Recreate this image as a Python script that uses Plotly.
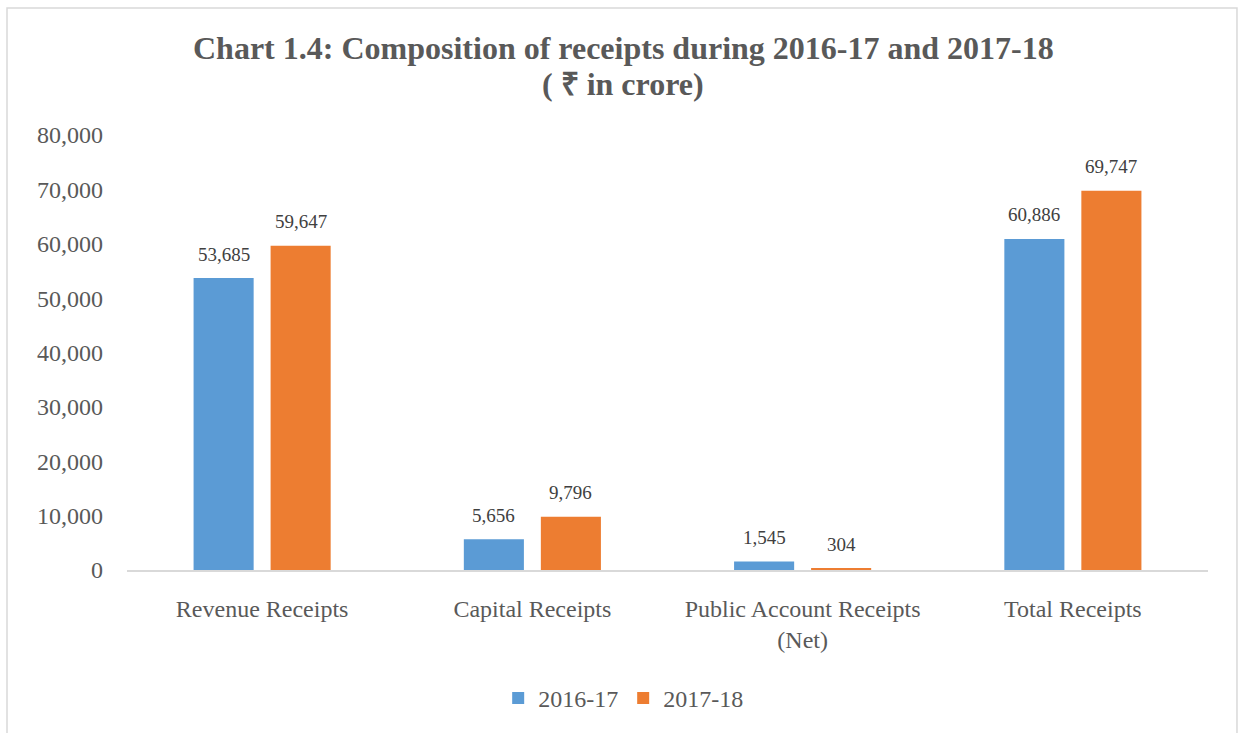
import plotly.graph_objects as go

categories = ["Revenue Receipts", "Capital Receipts", "Public Account Receipts<br>(Net)", "Total Receipts"]
series_names = ["2016-17", "2017-18"]
values_2016_17 = [53685, 5656, 1545, 60886]
values_2017_18 = [59647, 9796, 304, 69747]
y_ticks = [0, 10000, 20000, 30000, 40000, 50000, 60000, 70000, 80000]

FONT = "Liberation Serif, Times New Roman, serif"
GRAY = "#595959"

fig = go.Figure()
annotations = []
for i, (name, vals, col) in enumerate([(series_names[0], values_2016_17, "#5B9BD5"),
                                        (series_names[1], values_2017_18, "#ED7D31")]):
    fig.add_trace(go.Bar(
        x=categories, y=vals, name=name, marker=dict(color=col, line=dict(width=0)),
    ))
    shift = -38.5 if i == 0 else 38.5
    for c, v in zip(categories, vals):
        annotations.append(dict(x=c, y=v, xref="x", yref="y", text=f"{v:,}", showarrow=False,
                                xshift=shift, yshift=24, yanchor="middle",
                                font=dict(family=FONT, size=19, color="#404040")))

annotations.append(dict(text="<b>Chart 1.4: Composition of receipts during 2016-17 and 2017-18</b>",
                        xref="paper", yref="paper", x=0.459, y=(573 - 47) / 438, xanchor="center", yanchor="middle",
                        showarrow=False, font=dict(family=FONT, size=32, color=GRAY)))
annotations.append(dict(text="<b>( ₹ in crore)</b>",
                        xref="paper", yref="paper", x=0.459, y=(573 - 84) / 438, xanchor="center", yanchor="middle",
                        showarrow=False, font=dict(family=FONT, size=32, color=GRAY)))

fig.update_layout(
    width=1242, height=733,
    paper_bgcolor="white", plot_bgcolor="white",
    margin=dict(l=127, r=34, t=135, b=160),
    barmode="group", bargap=0.43, bargroupgap=0.22,
    font=dict(family=FONT, color=GRAY),
    xaxis=dict(showline=True, linecolor="#D9D9D9", linewidth=2, showgrid=False,
               tickfont=dict(family=FONT, size=24, color=GRAY), ticks="", ticklabelstandoff=16),
    yaxis=dict(range=[0, 80000], tickvals=y_ticks, tickformat=",", showgrid=False,
               zeroline=False, showline=False,
               tickfont=dict(family=FONT, size=24, color=GRAY), ticklabelstandoff=23),
    legend=dict(orientation="h", x=0.459, xanchor="center", y=-0.295, yanchor="middle",
                font=dict(family=FONT, size=24, color=GRAY), itemwidth=30),
    annotations=annotations,
    shapes=[dict(type="rect", xref="paper", yref="paper",
                 x0=-0.111, x1=1.0268, y0=-0.40, y1=1.292,
                 line=dict(color="#D9D9D9", width=1.5), fillcolor="rgba(0,0,0,0)", layer="below")],
)
fig.write_html("out.html")
